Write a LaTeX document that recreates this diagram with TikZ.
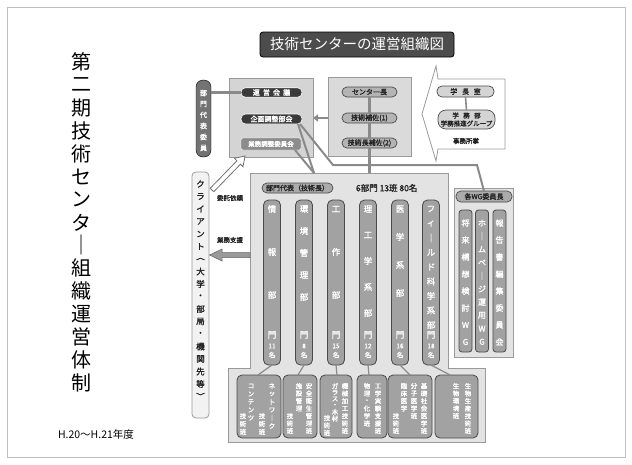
\documentclass[tikz,border=0pt]{standalone}
\usepackage{fontspec}
\setmainfont{Noto Sans CJK JP}
\newfontfamily\jpb[FakeBold=1.5]{Noto Sans CJK JP}
\usetikzlibrary{arrows.meta}
\definecolor{framec}{HTML}{BFBFBF}
\definecolor{boxa}{HTML}{D4D4D4}
\definecolor{boxb}{HTML}{DADADA}
\definecolor{boxm}{HTML}{E3E3E3}
\definecolor{edgec}{HTML}{9A9A9A}
\definecolor{darkp}{HTML}{3A3A3A}
\definecolor{midp}{HTML}{8C8C8C}
\definecolor{lightp}{HTML}{B4B4B4}
\definecolor{colf}{HTML}{A2A2A2}
\definecolor{cold}{HTML}{4A4A4A}
\definecolor{linec}{HTML}{8A8A8A}
\definecolor{txtd}{HTML}{222222}
\newcommand\vtext[6]{\foreach \ch [count=\k] in {#6}{\node[#1] (#2-\k) at (#3,{#4+(\k-1)*(#5)}) {\ch};}}
\begin{document}
\begin{tikzpicture}[x=1pt,y=-1pt,
  every node/.style={inner sep=0pt,outer sep=0pt},
  bigbox/.style={draw=edgec,line width=0.8pt},
  darkpill/.style={draw=white,fill=darkp,rounded corners=4.5pt,text=white,font=\jpb\fontsize{7}{7}\selectfont,line width=0.6pt},
  lpill/.style={draw=cold,fill=lightp,rounded corners=5pt,text=txtd,font=\jpb\fontsize{7}{7}\selectfont,line width=0.7pt},
  colbox/.style={draw=cold,fill=colf,rounded corners=5pt,line width=0.8pt},
  ct/.style={text=white,font=\jpb\fontsize{8.5}{8.5}\selectfont},
  cn/.style={text=white,font=\jpb\fontsize{6.5}{6.5}\selectfont},
  bt/.style={text=white,font=\jpb\fontsize{6.5}{6.5}\selectfont},
  wt/.style={text=white,font=\jpb\fontsize{8}{8}\selectfont},
  conn/.style={draw=linec,line width=2pt},
  thin/.style={draw=linec,line width=1.2pt}]
\useasboundingbox (0,0) rectangle (632,464);
\draw[framec,line width=0.8pt] (7,7) rectangle (625,457);

% big vertical title
\vtext{text=black,font=\fontsize{20}{20}\selectfont}{tt}{81}{62}{22.9}{第,二,期,技,術,セ,ン,タ,｜,組,織,運,営,体,制}
\node[anchor=west,font=\fontsize{10.5}{10.5}\selectfont] (era) at (58,434) {H.20〜H.21年度};

% header
\node[draw=black,fill=black!70,rounded corners=3pt,minimum width=194pt,minimum height=25pt,text=white,font=\fontsize{14.5}{14.5}\selectfont,line width=0.8pt] (head) at (357,44.5) {技術センターの運営組織図};

% left committee
\node[draw=black,fill=black!55,rounded corners=7pt,minimum width=15pt,minimum height=77pt] (bdi) at (203.5,118.5) {};
\vtext{wt,font=\jpb\fontsize{7}{7}\selectfont}{bdt}{203.5}{93}{11}{部,門,代,表,委,員}

% unei box
\node[bigbox,fill=boxa,minimum width=84pt,minimum height=79pt] (unei) at (271,117.5) {};
\node[darkpill,minimum width=61pt,minimum height=9.5pt] (kaigi) at (271.5,92.5) {運\ \ 営\ \ 会\ \ 議};
\node[darkpill,minimum width=61pt,minimum height=10pt] (kikaku) at (271.5,119) {企画調整部会};
\node[draw=white,fill=midp,rounded corners=2pt,minimum width=60pt,minimum height=12pt,text=white,font=\jpb\fontsize{6.5}{6.5}\selectfont] (gyomu) at (271,144) {業務調整委員会};

% center box
\node[bigbox,fill=boxb,minimum width=83pt,minimum height=79pt] (cbox) at (369.5,116.5) {};
\node[lpill,minimum width=55pt,minimum height=10pt] (chief) at (369.5,92) {センター長};
\node[lpill,minimum width=55pt,minimum height=10pt] (hosa1) at (369.5,118) {技術補佐(1)};
\node[lpill,minimum width=55pt,minimum height=10pt] (hosa2) at (369.5,143) {技術長補佐(2)};

% president office (arrow shape)
\draw[edgec,fill=white,line width=0.8pt] (505,79) -- (438,79) -- (436,66) -- (422,114) -- (436,161) -- (438,149) -- (505,149) -- cycle;
\node[lpill,fill=boxa,minimum width=57pt,minimum height=11pt] (pres) at (465.5,91.5) {学\ \ \ 長\ \ \ 室};
\node[lpill,fill=boxa,rounded corners=8pt,minimum width=57pt,minimum height=19pt,align=center,font=\jpb\fontsize{6.5}{8}\selectfont] (gakumu) at (466.5,119.5) {学\ \ \ 務\ \ \ 部\\学務推進グループ};
\node[font=\jpb\fontsize{6.5}{6.5}\selectfont,text=txtd] (jimu) at (466,141) {事務所掌};
\draw[conn,line width=1.6pt] (pres.south) -- (gakumu.north);

% main region
\draw[edgec,fill=boxm,line width=0.8pt] (250,173) -- (448,173) -- (448,368) -- (485,368) -- (485,442) -- (228,442) -- (228,368) -- (250,368) -- cycle;
\coordinate (mtop) at (314,173);
\node[lpill,fill=colf!90,minimum width=71pt,minimum height=10pt] (rep) at (297.5,188) {部門代表（技術長）};
\node[anchor=west,font=\jpb\fontsize{8.5}{8.5}\selectfont,text=txtd] (count) at (356,188) {6部門 13班 80名};

% columns
\foreach \n/\x in {1/272,2/304,3/336,4/368,5/400,6/431}{
  \node[colbox,minimum width=17pt,minimum height=165pt] (col\n) at (\x,282.5) {};
}
\vtext{ct}{c1}{272}{209}{43}{情,報,部}
\vtext{ct}{c2}{304}{209}{22}{環,境,管,理,部}
\vtext{ct}{c3}{336}{209}{43}{工,作,部}
\vtext{ct}{c4}{368}{209}{26}{理,工,学,系,部}
\vtext{ct}{c5}{400}{209}{28}{医,学,系,部}
\vtext{ct}{c6}{431}{209}{14.5}{フ,ィ,｜,ル,ド,科,学,系,部}
\foreach \n/\x/\m in {1/272/11,2/304/8,3/336/15,4/368/12,5/400/16,6/431/18}{
  \node[ct] (mon\n) at (\x,335) {門};
  \node[cn] (num\n) at (\x,346) {\m};
  \node[cn] (mei\n) at (\x,355) {名};
}

% bottom boxes
\foreach \n/\x/\w in {1/259/44,2/300/34,3/336/32,4/372/30,5/410/44,6/456.5/43}{
  \node[colbox,minimum width=\w pt,minimum height=63pt] (bx\n) at (\x,406.5) {};
}
\draw[thin] (col1.south) -- ([xshift=-1pt]bx1.north);
\draw[thin] (col2.south) -- ([xshift=-2pt]bx2.north);
\draw[thin] (col3.south) -- ([xshift=1pt]bx3.north);
\draw[thin] (col4.south) -- ([xshift=-3pt]bx4.north);
\draw[thin] (col5.south) -- (bx5.north);
\draw[thin] (col6.south) -- ([xshift=-6.5pt]bx6.north);
\vtext{bt}{b1a}{272}{386}{8}{ネ,ッ,ト,ワ,｜,ク}
\vtext{bt}{b1b}{262}{416}{8}{技,術,班}
\vtext{bt}{b1c}{251}{386}{8}{コ,ン,テ,ン,ツ}
\vtext{bt}{b1d}{243}{416}{8}{技,術,班}
\vtext{bt}{b2a}{309}{386}{7.5}{安,全,衛,生,管,理,班}
\vtext{bt}{b2b}{299}{386}{7.5}{施,設,管,理}
\vtext{bt}{b2c}{290}{416}{7.5}{技,術,班}
\vtext{bt}{b3a}{345}{386}{7.5}{機,械,加,工,技,術,班}
\vtext{bt}{b3b}{335}{386}{6.5}{ガ,ラ,ス,・,木,材}
\vtext{bt}{b3c}{327}{418}{7.5}{技,術,班}
\vtext{bt}{b4a}{378}{386}{7.5}{工,学,実,験,支,援,班}
\vtext{bt}{b4b}{367}{386}{7.5}{物,理,・,化,学,班}
\vtext{bt}{b5a}{424}{386}{7.5}{基,礎,社,会,医,学,班}
\vtext{bt}{b5b}{414}{386}{7.5}{分,子,医,学,班}
\vtext{bt}{b5c}{404}{386}{7.5}{臨,床,医,学}
\vtext{bt}{b5d}{396}{416}{7.5}{技,術,班}
\vtext{bt}{b6a}{468}{386}{7.5}{生,物,生,産,技,術,班}
\vtext{bt}{b6b}{456}{386}{7.5}{生,物,環,境,班}

% WG box
\node[bigbox,fill=boxm,minimum width=59pt,minimum height=169pt] (wg) at (483.5,272.5) {};
\node[lpill,fill=colf!90,minimum width=56pt,minimum height=11pt] (wgchair) at (484,196.5) {各WG委員長};
\foreach \n/\x in {1/465.5,2/482,3/499.5}{
  \node[colbox,rounded corners=3pt,minimum width=13pt,minimum height=142pt] (wc\n) at (\x,281) {};
}
\vtext{wt}{w1}{465.5}{223}{17}{将,来,構,想,検,討,W,G}
\vtext{wt}{w2}{482}{223}{13.2}{ホ,｜,ム,ペ,｜,ジ,運,用,W,G}
\vtext{wt}{w3}{499.5}{223}{17}{報,告,書,編,集,委,員,会}

% client
\node[draw=edgec,fill=white!95!black,rounded corners=4pt,minimum width=17pt,minimum height=246pt,line width=0.8pt] (client) at (200.5,295) {};
\vtext{text=txtd,font=\jpb\fontsize{8.5}{8.5}\selectfont}{cl}{200.5}{184}{12.5}{ク,ラ,イ,ア,ン,ト,︵,大,学,・,部,局,・,機,関,先,等,︶}
\node[font=\jpb\fontsize{6.5}{6.5}\selectfont,text=txtd] (irai) at (230,198) {委託依頼};
\node[font=\jpb\fontsize{6.5}{6.5}\selectfont,text=txtd] (shien) at (230,240) {業務支援};

% connectors
\draw[conn,line width=2.5pt] (bdi.east |- kaigi) -- (kaigi.west);
\draw[conn,line width=2.5pt] (chief.south) -- (hosa1.north);
\draw[conn,line width=2.5pt] (hosa1.south) -- (hosa2.north);
\draw[conn,line width=2.5pt] (hosa2.south) -- (369.5,173);
\draw[conn,line width=2.5pt,-{Triangle[length=5pt,width=7pt]}] (cbox.west |- hosa1) -- (unei.east |- hosa1);
\draw[conn] ([xshift=-4pt]kikaku.south east) -- (mtop);
\draw[conn] ([xshift=-6pt]gyomu.south east) -- (mtop);
\draw[conn] ([xshift=-2pt]kikaku.south east) -- (333,165) -- (477,165) -- (wgchair.north);
\draw[draw=black!60,fill=black!40,line width=0.5pt] (250,252.5) -- (222,252.5) -- (222,249) -- (209.5,255) -- (222,261) -- (222,257.5) -- (250,257.5) -- cycle;
\draw[draw=black!55,fill=white,line width=0.8pt] (213.8,191.7) -- (240.5,164.2) -- (243.0,166.7) -- (245,156) -- (234.4,158.3) -- (236.9,160.8) -- (210.2,188.3) -- cycle;
\end{tikzpicture}
\end{document}
